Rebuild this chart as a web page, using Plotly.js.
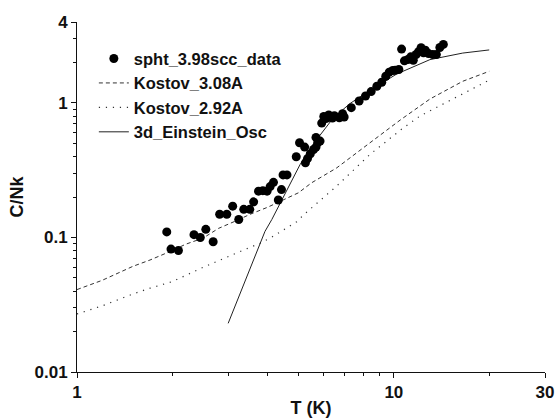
<!DOCTYPE html>
<html>
<head>
<meta charset="utf-8">
<script src="https://cdn.plot.ly/plotly-3.0.1.min.js"></script>
<style>html,body{margin:0;padding:0;background:#fff;}#chart{width:556px;height:418px;}</style>
</head>
<body>
<div id="chart"></div>
<script>
// Measured specific heat data
const dataT = [1.92,1.98,2.09,2.34,2.45,2.55,2.69,2.82,2.97,3.10,3.24,3.36,3.51,3.61,3.74,3.86,3.98,4.07,4.17,4.32,4.42,4.47,4.60,4.92,5.04,5.23,5.26,5.34,5.45,5.58,5.68,5.75,5.68,5.85,5.92,6.01,6.23,6.13,6.40,6.49,6.73,6.89,6.97,7.34,7.77,8.14,8.48,8.84,9.16,9.43,9.67,9.92,10.1,10.37,10.58,10.80,11.08,11.31,11.52,11.76,11.97,12.19,12.41,12.57,12.87,13.27,13.62,13.97,14.33];
const dataC = [0.110,0.082,0.080,0.105,0.100,0.115,0.093,0.149,0.149,0.171,0.136,0.162,0.162,0.184,0.221,0.223,0.221,0.239,0.257,0.190,0.227,0.292,0.292,0.398,0.506,0.470,0.359,0.386,0.419,0.451,0.470,0.506,0.555,0.521,0.709,0.795,0.814,0.768,0.773,0.804,0.777,0.832,0.786,0.923,1.035,1.128,1.215,1.331,1.426,1.581,1.694,1.743,1.75,1.773,2.515,2.058,2.106,2.204,2.08,2.295,2.402,2.573,2.36,2.47,2.33,2.295,2.295,2.587,2.725];

// Kostov 3.08A curve
const k308T = [1, 1.2, 1.5, 1.7, 2, 2.2, 2.5, 2.8, 3.2, 3.5, 4, 4.4, 5, 5.5, 6.6, 8.4, 10.5, 13, 16.5, 20];
const k308C = [0.041, 0.048, 0.061, 0.068, 0.080, 0.089, 0.099, 0.117, 0.134, 0.148, 0.168, 0.186, 0.215, 0.255, 0.329, 0.505, 0.75, 1.07, 1.45, 1.72];

// Kostov 2.92A curve
const k292T = [1, 1.2, 1.5, 1.7, 2, 2.5, 3.2, 3.8, 4.1, 4.94, 5.2, 6.6, 8.4, 10.7, 12.1, 15, 20];
const k292C = [0.027, 0.031, 0.038, 0.042, 0.047, 0.060, 0.077, 0.091, 0.100, 0.131, 0.148, 0.241, 0.414, 0.652, 0.80, 1.04, 1.48];

// 3d Einstein oscillator curve
const einT = [3, 3.92, 4.12, 4.37, 5.06, 5.71, 6.44, 7.27, 8.0, 10.2, 13, 16.5, 20];
const einC = [0.023, 0.111, 0.136, 0.178, 0.349, 0.535, 0.774, 0.99, 1.15, 1.64, 2.10, 2.35, 2.48];

// Axis ticks
const xTickVals = [1, 10, 30];
const xTickText = ['1', '10', '30'];
const xMinor = [2,3,4,5,6,7,8,9,20];
const yTickVals = [0.01, 0.1, 1, 4];
const yTickText = ['0.01', '0.1', '1', '4'];
const yMinor = [0.02,0.03,0.04,0.05,0.06,0.07,0.08,0.09,0.2,0.3,0.4,0.5,0.6,0.7,0.8,0.9,2,3];

const FONT = 'Liberation Sans, Arial, sans-serif';
const ink = '#111';

const traces = [
  {x: k308T, y: k308C, mode: 'lines', name: 'Kostov_3.08A', legendrank: 2,
   line: {color: '#333', width: 1, dash: '4px,3px'}},
  {x: k292T, y: k292C, mode: 'lines', name: 'Kostov_2.92A', legendrank: 3,
   line: {color: '#333', width: 1.2, dash: '1.2px,5.8px'}},
  {x: einT, y: einC, mode: 'lines', name: '3d_Einstein_Osc', legendrank: 4,
   line: {color: '#222', width: 1}},
  {x: dataT, y: dataC, mode: 'markers', name: 'spht_3.98scc_data', legendrank: 1,
   marker: {color: '#000', size: 9}}
];

const layout = {
  width: 556, height: 418,
  margin: {l: 77, r: 10.5, t: 21.5, b: 46.3, pad: 0},
  paper_bgcolor: '#fff', plot_bgcolor: '#fff',
  font: {family: FONT, size: 17, color: ink, weight: 'bold'},
  showlegend: true,
  legend: {x: 0.036, y: 0.945, xanchor: 'left', yanchor: 'top',
           bgcolor: 'rgba(0,0,0,0)', borderwidth: 0,
           font: {family: FONT, size: 16.5, color: ink, weight: 'bold'},
           tracegroupgap: 0},
  xaxis: {type: 'log', range: [0, Math.log10(30)],
          showgrid: false, zeroline: false,
          showline: true, linecolor: ink, linewidth: 1,
          ticks: 'outside', ticklen: 5, tickwidth: 1, tickcolor: ink,
          tickmode: 'array', tickvals: xTickVals, ticktext: xTickText,
          tickfont: {family: FONT, size: 17, color: ink, weight: 'bold'},
          minor: {tickvals: xMinor, ticks: 'outside', ticklen: 3, tickwidth: 1, tickcolor: ink, showgrid: false},
          title: {text: 'T (K)', font: {family: FONT, size: 18, color: ink, weight: 'bold'}, standoff: 4}},
  yaxis: {type: 'log', range: [-2, Math.log10(4)],
          showgrid: false, zeroline: false,
          showline: true, linecolor: ink, linewidth: 1,
          ticks: 'outside', ticklen: 5, tickwidth: 1, tickcolor: ink,
          tickmode: 'array', tickvals: yTickVals, ticktext: yTickText,
          tickfont: {family: FONT, size: 17, color: ink, weight: 'bold'},
          minor: {tickvals: yMinor, ticks: 'outside', ticklen: 3, tickwidth: 1, tickcolor: ink, showgrid: false},
          title: {text: 'C/Nk', font: {family: FONT, size: 18, color: ink, weight: 'bold'}, standoff: 6}}
};

Plotly.newPlot('chart', traces, layout, {displayModeBar: false, staticPlot: true});
</script>
</body>
</html>
